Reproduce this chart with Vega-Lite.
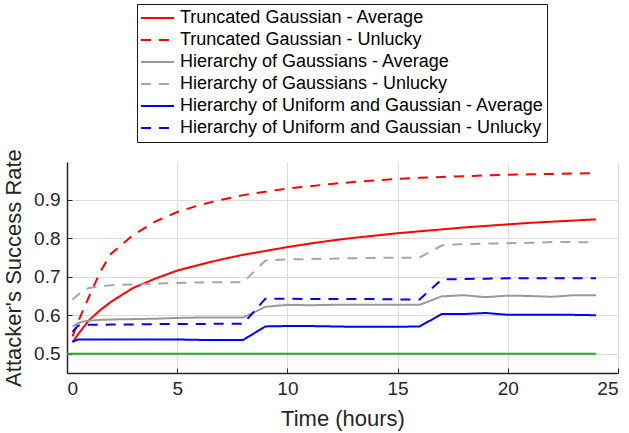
{
  "$schema": "https://vega.github.io/schema/vega-lite/v6.json",
  "width": 551,
  "height": 211,
  "autosize": "none",
  "padding": {"left": 67, "top": 162, "right": 11, "bottom": 60},
  "background": "white",
  "config": {
    "font": "Liberation Sans",
    "view": {"stroke": null},
    "axis": {
      "domainColor": "#262626",
      "domainWidth": 1.5,
      "tickColor": "#262626",
      "tickWidth": 1,
      "tickSize": -5,
      "gridColor": "#dcdcdc",
      "gridWidth": 1,
      "labelFont": "Liberation Sans",
      "labelFontSize": 19,
      "labelColor": "#262626",
      "titleFont": "Liberation Sans",
      "titleFontSize": 22,
      "titleFontWeight": "normal",
      "titleColor": "#262626"
    },
    "legend": {
      "orient": "none",
      "legendX": 70,
      "legendY": -158,
      "strokeColor": "#1a1a1a",
      "fillColor": "white",
      "padding": 3,
      "symbolType": "stroke",
      "symbolSize": 1089,
      "symbolStrokeWidth": 2,
      "labelFont": "Liberation Sans",
      "labelFontSize": 18,
      "labelColor": "black",
      "labelOffset": 5,
      "labelLimit": 0,
      "clipHeight": 22,
      "rowPadding": 0,
      "title": null
    }
  },
  "datasets": {
    "baseline": [
      {"t": 0, "v": 0.5},
      {"t": 24, "v": 0.5}
    ],
    "curves": [
      {"t": 0.25, "v": 0.530, "s": "Truncated Gaussian - Average"},
      {"t": 0.5, "v": 0.550, "s": "Truncated Gaussian - Average"},
      {"t": 0.75, "v": 0.569, "s": "Truncated Gaussian - Average"},
      {"t": 1, "v": 0.587, "s": "Truncated Gaussian - Average"},
      {"t": 1.5, "v": 0.613, "s": "Truncated Gaussian - Average"},
      {"t": 2, "v": 0.635, "s": "Truncated Gaussian - Average"},
      {"t": 3, "v": 0.671, "s": "Truncated Gaussian - Average"},
      {"t": 4, "v": 0.695, "s": "Truncated Gaussian - Average"},
      {"t": 5, "v": 0.716, "s": "Truncated Gaussian - Average"},
      {"t": 6, "v": 0.731, "s": "Truncated Gaussian - Average"},
      {"t": 7, "v": 0.745, "s": "Truncated Gaussian - Average"},
      {"t": 8, "v": 0.757, "s": "Truncated Gaussian - Average"},
      {"t": 9, "v": 0.767, "s": "Truncated Gaussian - Average"},
      {"t": 10, "v": 0.777, "s": "Truncated Gaussian - Average"},
      {"t": 11, "v": 0.786, "s": "Truncated Gaussian - Average"},
      {"t": 12, "v": 0.794, "s": "Truncated Gaussian - Average"},
      {"t": 13, "v": 0.801, "s": "Truncated Gaussian - Average"},
      {"t": 14, "v": 0.807, "s": "Truncated Gaussian - Average"},
      {"t": 15, "v": 0.813, "s": "Truncated Gaussian - Average"},
      {"t": 16, "v": 0.818, "s": "Truncated Gaussian - Average"},
      {"t": 17, "v": 0.823, "s": "Truncated Gaussian - Average"},
      {"t": 18, "v": 0.828, "s": "Truncated Gaussian - Average"},
      {"t": 19, "v": 0.832, "s": "Truncated Gaussian - Average"},
      {"t": 20, "v": 0.836, "s": "Truncated Gaussian - Average"},
      {"t": 21, "v": 0.840, "s": "Truncated Gaussian - Average"},
      {"t": 22, "v": 0.843, "s": "Truncated Gaussian - Average"},
      {"t": 23, "v": 0.846, "s": "Truncated Gaussian - Average"},
      {"t": 24, "v": 0.849, "s": "Truncated Gaussian - Average"},

      {"t": 0.25, "v": 0.545, "s": "Truncated Gaussian - Unlucky"},
      {"t": 0.5, "v": 0.582, "s": "Truncated Gaussian - Unlucky"},
      {"t": 0.75, "v": 0.616, "s": "Truncated Gaussian - Unlucky"},
      {"t": 1, "v": 0.648, "s": "Truncated Gaussian - Unlucky"},
      {"t": 1.5, "v": 0.712, "s": "Truncated Gaussian - Unlucky"},
      {"t": 2, "v": 0.760, "s": "Truncated Gaussian - Unlucky"},
      {"t": 3, "v": 0.808, "s": "Truncated Gaussian - Unlucky"},
      {"t": 4, "v": 0.843, "s": "Truncated Gaussian - Unlucky"},
      {"t": 5, "v": 0.868, "s": "Truncated Gaussian - Unlucky"},
      {"t": 6, "v": 0.886, "s": "Truncated Gaussian - Unlucky"},
      {"t": 7, "v": 0.900, "s": "Truncated Gaussian - Unlucky"},
      {"t": 8, "v": 0.912, "s": "Truncated Gaussian - Unlucky"},
      {"t": 9, "v": 0.921, "s": "Truncated Gaussian - Unlucky"},
      {"t": 10, "v": 0.929, "s": "Truncated Gaussian - Unlucky"},
      {"t": 11, "v": 0.935, "s": "Truncated Gaussian - Unlucky"},
      {"t": 12, "v": 0.941, "s": "Truncated Gaussian - Unlucky"},
      {"t": 13, "v": 0.946, "s": "Truncated Gaussian - Unlucky"},
      {"t": 14, "v": 0.950, "s": "Truncated Gaussian - Unlucky"},
      {"t": 15, "v": 0.954, "s": "Truncated Gaussian - Unlucky"},
      {"t": 16, "v": 0.957, "s": "Truncated Gaussian - Unlucky"},
      {"t": 17, "v": 0.959, "s": "Truncated Gaussian - Unlucky"},
      {"t": 18, "v": 0.961, "s": "Truncated Gaussian - Unlucky"},
      {"t": 19, "v": 0.963, "s": "Truncated Gaussian - Unlucky"},
      {"t": 20, "v": 0.965, "s": "Truncated Gaussian - Unlucky"},
      {"t": 21, "v": 0.966, "s": "Truncated Gaussian - Unlucky"},
      {"t": 22, "v": 0.967, "s": "Truncated Gaussian - Unlucky"},
      {"t": 23, "v": 0.968, "s": "Truncated Gaussian - Unlucky"},
      {"t": 24, "v": 0.969, "s": "Truncated Gaussian - Unlucky"},

      {"t": 0.25, "v": 0.571, "s": "Hierarchy of Gaussians - Average"},
      {"t": 0.5, "v": 0.579, "s": "Hierarchy of Gaussians - Average"},
      {"t": 0.75, "v": 0.584, "s": "Hierarchy of Gaussians - Average"},
      {"t": 1, "v": 0.586, "s": "Hierarchy of Gaussians - Average"},
      {"t": 1.5, "v": 0.588, "s": "Hierarchy of Gaussians - Average"},
      {"t": 2, "v": 0.589, "s": "Hierarchy of Gaussians - Average"},
      {"t": 3, "v": 0.590, "s": "Hierarchy of Gaussians - Average"},
      {"t": 4, "v": 0.591, "s": "Hierarchy of Gaussians - Average"},
      {"t": 5, "v": 0.593, "s": "Hierarchy of Gaussians - Average"},
      {"t": 6, "v": 0.594, "s": "Hierarchy of Gaussians - Average"},
      {"t": 7, "v": 0.594, "s": "Hierarchy of Gaussians - Average"},
      {"t": 8, "v": 0.594, "s": "Hierarchy of Gaussians - Average"},
      {"t": 9, "v": 0.622, "s": "Hierarchy of Gaussians - Average"},
      {"t": 10, "v": 0.627, "s": "Hierarchy of Gaussians - Average"},
      {"t": 11, "v": 0.626, "s": "Hierarchy of Gaussians - Average"},
      {"t": 12, "v": 0.627, "s": "Hierarchy of Gaussians - Average"},
      {"t": 13, "v": 0.627, "s": "Hierarchy of Gaussians - Average"},
      {"t": 14, "v": 0.627, "s": "Hierarchy of Gaussians - Average"},
      {"t": 15, "v": 0.627, "s": "Hierarchy of Gaussians - Average"},
      {"t": 16, "v": 0.627, "s": "Hierarchy of Gaussians - Average"},
      {"t": 17, "v": 0.649, "s": "Hierarchy of Gaussians - Average"},
      {"t": 18, "v": 0.652, "s": "Hierarchy of Gaussians - Average"},
      {"t": 19, "v": 0.647, "s": "Hierarchy of Gaussians - Average"},
      {"t": 20, "v": 0.651, "s": "Hierarchy of Gaussians - Average"},
      {"t": 21, "v": 0.650, "s": "Hierarchy of Gaussians - Average"},
      {"t": 22, "v": 0.648, "s": "Hierarchy of Gaussians - Average"},
      {"t": 23, "v": 0.652, "s": "Hierarchy of Gaussians - Average"},
      {"t": 24, "v": 0.652, "s": "Hierarchy of Gaussians - Average"},

      {"t": 0.25, "v": 0.640, "s": "Hierarchy of Gaussians - Unlucky"},
      {"t": 0.5, "v": 0.653, "s": "Hierarchy of Gaussians - Unlucky"},
      {"t": 0.75, "v": 0.664, "s": "Hierarchy of Gaussians - Unlucky"},
      {"t": 1, "v": 0.671, "s": "Hierarchy of Gaussians - Unlucky"},
      {"t": 1.5, "v": 0.675, "s": "Hierarchy of Gaussians - Unlucky"},
      {"t": 2, "v": 0.678, "s": "Hierarchy of Gaussians - Unlucky"},
      {"t": 3, "v": 0.680, "s": "Hierarchy of Gaussians - Unlucky"},
      {"t": 4, "v": 0.682, "s": "Hierarchy of Gaussians - Unlucky"},
      {"t": 5, "v": 0.684, "s": "Hierarchy of Gaussians - Unlucky"},
      {"t": 6, "v": 0.685, "s": "Hierarchy of Gaussians - Unlucky"},
      {"t": 7, "v": 0.686, "s": "Hierarchy of Gaussians - Unlucky"},
      {"t": 8, "v": 0.686, "s": "Hierarchy of Gaussians - Unlucky"},
      {"t": 9, "v": 0.742, "s": "Hierarchy of Gaussians - Unlucky"},
      {"t": 10, "v": 0.745, "s": "Hierarchy of Gaussians - Unlucky"},
      {"t": 11, "v": 0.746, "s": "Hierarchy of Gaussians - Unlucky"},
      {"t": 12, "v": 0.747, "s": "Hierarchy of Gaussians - Unlucky"},
      {"t": 13, "v": 0.748, "s": "Hierarchy of Gaussians - Unlucky"},
      {"t": 14, "v": 0.749, "s": "Hierarchy of Gaussians - Unlucky"},
      {"t": 15, "v": 0.749, "s": "Hierarchy of Gaussians - Unlucky"},
      {"t": 16, "v": 0.750, "s": "Hierarchy of Gaussians - Unlucky"},
      {"t": 17, "v": 0.781, "s": "Hierarchy of Gaussians - Unlucky"},
      {"t": 18, "v": 0.785, "s": "Hierarchy of Gaussians - Unlucky"},
      {"t": 19, "v": 0.786, "s": "Hierarchy of Gaussians - Unlucky"},
      {"t": 20, "v": 0.787, "s": "Hierarchy of Gaussians - Unlucky"},
      {"t": 21, "v": 0.788, "s": "Hierarchy of Gaussians - Unlucky"},
      {"t": 22, "v": 0.790, "s": "Hierarchy of Gaussians - Unlucky"},
      {"t": 23, "v": 0.790, "s": "Hierarchy of Gaussians - Unlucky"},
      {"t": 24, "v": 0.789, "s": "Hierarchy of Gaussians - Unlucky"},

      {"t": 0.25, "v": 0.531, "s": "Hierarchy of Uniform and Gaussian - Average"},
      {"t": 0.5, "v": 0.537, "s": "Hierarchy of Uniform and Gaussian - Average"},
      {"t": 0.75, "v": 0.537, "s": "Hierarchy of Uniform and Gaussian - Average"},
      {"t": 1, "v": 0.537, "s": "Hierarchy of Uniform and Gaussian - Average"},
      {"t": 1.5, "v": 0.537, "s": "Hierarchy of Uniform and Gaussian - Average"},
      {"t": 2, "v": 0.537, "s": "Hierarchy of Uniform and Gaussian - Average"},
      {"t": 3, "v": 0.537, "s": "Hierarchy of Uniform and Gaussian - Average"},
      {"t": 4, "v": 0.537, "s": "Hierarchy of Uniform and Gaussian - Average"},
      {"t": 5, "v": 0.537, "s": "Hierarchy of Uniform and Gaussian - Average"},
      {"t": 6, "v": 0.536, "s": "Hierarchy of Uniform and Gaussian - Average"},
      {"t": 7, "v": 0.536, "s": "Hierarchy of Uniform and Gaussian - Average"},
      {"t": 8, "v": 0.536, "s": "Hierarchy of Uniform and Gaussian - Average"},
      {"t": 9, "v": 0.571, "s": "Hierarchy of Uniform and Gaussian - Average"},
      {"t": 10, "v": 0.572, "s": "Hierarchy of Uniform and Gaussian - Average"},
      {"t": 11, "v": 0.572, "s": "Hierarchy of Uniform and Gaussian - Average"},
      {"t": 12, "v": 0.571, "s": "Hierarchy of Uniform and Gaussian - Average"},
      {"t": 13, "v": 0.570, "s": "Hierarchy of Uniform and Gaussian - Average"},
      {"t": 14, "v": 0.570, "s": "Hierarchy of Uniform and Gaussian - Average"},
      {"t": 15, "v": 0.570, "s": "Hierarchy of Uniform and Gaussian - Average"},
      {"t": 16, "v": 0.571, "s": "Hierarchy of Uniform and Gaussian - Average"},
      {"t": 17, "v": 0.603, "s": "Hierarchy of Uniform and Gaussian - Average"},
      {"t": 18, "v": 0.603, "s": "Hierarchy of Uniform and Gaussian - Average"},
      {"t": 19, "v": 0.606, "s": "Hierarchy of Uniform and Gaussian - Average"},
      {"t": 20, "v": 0.601, "s": "Hierarchy of Uniform and Gaussian - Average"},
      {"t": 21, "v": 0.601, "s": "Hierarchy of Uniform and Gaussian - Average"},
      {"t": 22, "v": 0.601, "s": "Hierarchy of Uniform and Gaussian - Average"},
      {"t": 23, "v": 0.601, "s": "Hierarchy of Uniform and Gaussian - Average"},
      {"t": 24, "v": 0.600, "s": "Hierarchy of Uniform and Gaussian - Average"},

      {"t": 0.25, "v": 0.557, "s": "Hierarchy of Uniform and Gaussian - Unlucky"},
      {"t": 0.5, "v": 0.573, "s": "Hierarchy of Uniform and Gaussian - Unlucky"},
      {"t": 0.75, "v": 0.574, "s": "Hierarchy of Uniform and Gaussian - Unlucky"},
      {"t": 1, "v": 0.575, "s": "Hierarchy of Uniform and Gaussian - Unlucky"},
      {"t": 1.5, "v": 0.575, "s": "Hierarchy of Uniform and Gaussian - Unlucky"},
      {"t": 2, "v": 0.576, "s": "Hierarchy of Uniform and Gaussian - Unlucky"},
      {"t": 3, "v": 0.576, "s": "Hierarchy of Uniform and Gaussian - Unlucky"},
      {"t": 4, "v": 0.577, "s": "Hierarchy of Uniform and Gaussian - Unlucky"},
      {"t": 5, "v": 0.577, "s": "Hierarchy of Uniform and Gaussian - Unlucky"},
      {"t": 6, "v": 0.577, "s": "Hierarchy of Uniform and Gaussian - Unlucky"},
      {"t": 7, "v": 0.578, "s": "Hierarchy of Uniform and Gaussian - Unlucky"},
      {"t": 8, "v": 0.578, "s": "Hierarchy of Uniform and Gaussian - Unlucky"},
      {"t": 9, "v": 0.643, "s": "Hierarchy of Uniform and Gaussian - Unlucky"},
      {"t": 10, "v": 0.643, "s": "Hierarchy of Uniform and Gaussian - Unlucky"},
      {"t": 11, "v": 0.642, "s": "Hierarchy of Uniform and Gaussian - Unlucky"},
      {"t": 12, "v": 0.642, "s": "Hierarchy of Uniform and Gaussian - Unlucky"},
      {"t": 13, "v": 0.642, "s": "Hierarchy of Uniform and Gaussian - Unlucky"},
      {"t": 14, "v": 0.642, "s": "Hierarchy of Uniform and Gaussian - Unlucky"},
      {"t": 15, "v": 0.641, "s": "Hierarchy of Uniform and Gaussian - Unlucky"},
      {"t": 16, "v": 0.641, "s": "Hierarchy of Uniform and Gaussian - Unlucky"},
      {"t": 17, "v": 0.693, "s": "Hierarchy of Uniform and Gaussian - Unlucky"},
      {"t": 18, "v": 0.694, "s": "Hierarchy of Uniform and Gaussian - Unlucky"},
      {"t": 19, "v": 0.695, "s": "Hierarchy of Uniform and Gaussian - Unlucky"},
      {"t": 20, "v": 0.696, "s": "Hierarchy of Uniform and Gaussian - Unlucky"},
      {"t": 21, "v": 0.696, "s": "Hierarchy of Uniform and Gaussian - Unlucky"},
      {"t": 22, "v": 0.696, "s": "Hierarchy of Uniform and Gaussian - Unlucky"},
      {"t": 23, "v": 0.696, "s": "Hierarchy of Uniform and Gaussian - Unlucky"},
      {"t": 24, "v": 0.696, "s": "Hierarchy of Uniform and Gaussian - Unlucky"}
    ]
  },
  "layer": [
    {
      "data": {"name": "baseline"},
      "mark": {"type": "line", "color": "#22b022", "strokeWidth": 2},
      "encoding": {
        "x": {"field": "t", "type": "quantitative", "scale": {"domain": [0, 25], "nice": false}},
        "y": {"field": "v", "type": "quantitative", "scale": {"domain": [0.45, 0.998], "nice": false, "zero": false}}
      }
    },
    {
      "data": {"name": "curves"},
      "mark": {"type": "line", "strokeWidth": 2},
      "encoding": {
        "x": {
          "field": "t", "type": "quantitative",
          "scale": {"domain": [0, 25], "nice": false},
          "axis": {"title": "Time (hours)", "values": [0, 5, 10, 15, 20, 25], "grid": true, "labelPadding": 11, "titlePadding": 10}
        },
        "y": {
          "field": "v", "type": "quantitative",
          "scale": {"domain": [0.45, 0.998], "nice": false, "zero": false},
          "axis": {"title": "Attacker's Success Rate", "values": [0.5, 0.6, 0.7, 0.8, 0.9], "format": ".1f", "grid": true, "labelPadding": 12, "titlePadding": 8}
        },
        "color": {
          "field": "s", "type": "nominal",
          "scale": {
            "domain": ["Truncated Gaussian - Average", "Truncated Gaussian - Unlucky", "Hierarchy of Gaussians - Average", "Hierarchy of Gaussians - Unlucky", "Hierarchy of Uniform and Gaussian - Average", "Hierarchy of Uniform and Gaussian - Unlucky"],
            "range": ["#ff0000", "#ff0000", "#999999", "#a6a6a6", "#0000ff", "#0000ff"]
          },
          "legend": {"title": null}
        },
        "strokeDash": {
          "field": "s", "type": "nominal",
          "scale": {
            "domain": ["Truncated Gaussian - Average", "Truncated Gaussian - Unlucky", "Hierarchy of Gaussians - Average", "Hierarchy of Gaussians - Unlucky", "Hierarchy of Uniform and Gaussian - Average", "Hierarchy of Uniform and Gaussian - Unlucky"],
            "range": [[1, 0], [10, 8], [1, 0], [10, 8], [1, 0], [10, 8]]
          },
          "legend": {"title": null}
        }
      }
    }
  ]
}
